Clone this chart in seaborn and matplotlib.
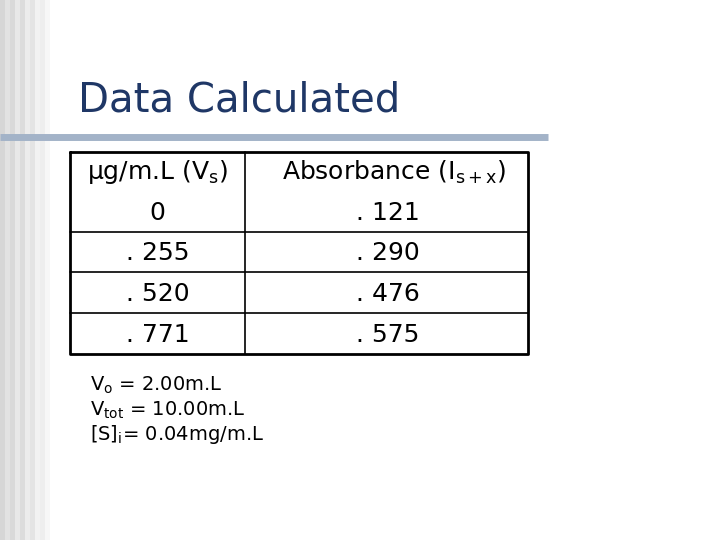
import matplotlib
matplotlib.use("Agg")
import matplotlib.pyplot as plt
import seaborn as sns

sns.set_style("white")
plt.rcParams['font.family'] = ['DejaVu Sans']
plt.rcParams['text.color'] = 'black'

title = "Data Calculated"
col_headers = [r"µg/m.L (V$_\mathregular{s}$)", r"Absorbance (I$_\mathregular{s+x}$)"]
conc = ["0", ". 255", ". 520", ". 771"]
absorb = [". 121", ". 290", ". 476", ". 575"]
notes = [r"V$_\mathregular{o}$ = 2.00m.L", r"V$_\mathregular{tot}$ = 10.00m.L", r"[S]$_\mathregular{i}$= 0.04mg/m.L"]

fig = plt.figure(figsize=(7.2, 5.4), dpi=100)
ax = fig.add_axes([0, 0, 1, 1])
ax.set_xlim(0, 720); ax.set_ylim(540, 0); ax.axis("off")

grays = ["#d6d6d6", "#e2e2e2", "#d9d9d9", "#e8e8e8", "#dcdcdc", "#ececec", "#e4e4e4", "#f2f2f2", "#eeeeee", "#f7f7f7"]
for i, g in enumerate(grays):
    ax.axvspan(i * 5, i * 5 + 5, color=g, lw=0)

ax.text(78, 100, title, fontsize=29, color="#1f3766", va="center", ha="left")
ax.plot([0, 548], [137, 137], color="#a3b3c8", lw=5, solid_capstyle="butt")

x0, x1, xm = 70, 528, 245
ys = [152, 192, 232, 272, 313, 354]
ax.plot([x0, x1, x1, x0, x0], [ys[0], ys[0], ys[-1], ys[-1], ys[0]], color="black", lw=2)
for y in ys[2:-1]:
    ax.plot([x0, x1], [y, y], color="black", lw=1.2)
ax.plot([xm, xm], [ys[0], ys[-1]], color="black", lw=1.2)
cx1, cx2 = (x0 + xm) / 2, (xm + x1) / 2
ax.text(cx1, 172, col_headers[0], fontsize=18, ha="center", va="center")
ax.text(cx2 + 8, 172, col_headers[1], fontsize=18, ha="center", va="center")
rows_y = [213, 253, 294, 335]
for y, c, a in zip(rows_y, conc, absorb):
    ax.text(cx1, y, c, fontsize=18, ha="center", va="center")
    ax.text(388, y, a, fontsize=18, ha="center", va="center")

for i, n in enumerate(notes):
    ax.text(90, 385 + i * 25, n, fontsize=14, ha="left", va="center")

fig.savefig("out.png", dpi=100)
